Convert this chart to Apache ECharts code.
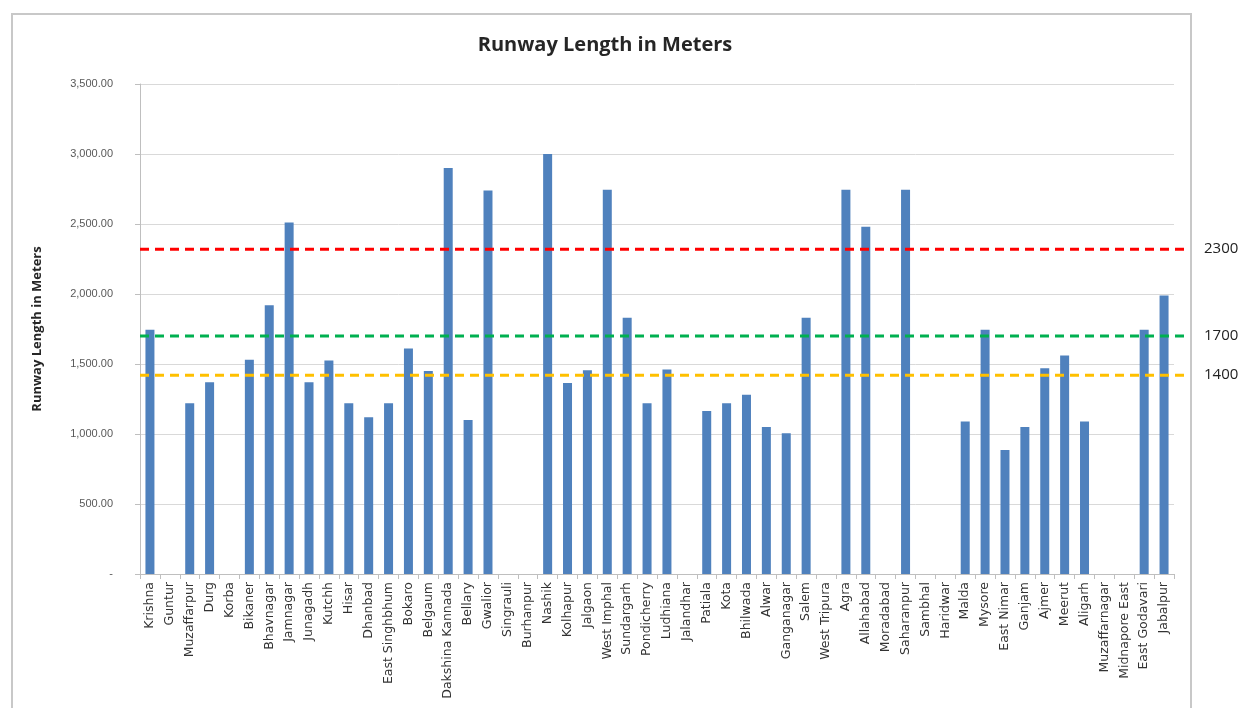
<!DOCTYPE html>
<html>
<head>
<meta charset="utf-8">
<script src="https://cdn.jsdelivr.net/npm/echarts@6/dist/echarts.min.js"></script>
<style>html,body{margin:0;padding:0;background:#fff;}#c{width:1253px;height:708px;}</style>
</head>
<body>
<div id="c"></div>
<script>
const categories = ['Krishna','Guntur','Muzaffarpur','Durg','Korba','Bikaner','Bhavnagar','Jamnagar','Junagadh','Kutchh','Hisar','Dhanbad','East Singhbhum','Bokaro','Belgaum','Dakshina Kannada','Bellary','Gwalior','Singrauli','Burhanpur','Nashik','Kolhapur','Jalgaon','West Imphal','Sundargarh','Pondicherry','Ludhiana','Jalandhar','Patiala','Kota','Bhilwada','Alwar','Ganganagar','Salem','West Tripura','Agra','Allahabad','Moradabad','Saharanpur','Sambhal','Haridwar','Malda','Mysore','East Nimar','Ganjam','Ajmer','Meerut','Aligarh','Muzaffarnagar','Midnapore East','East Godavari','Jabalpur'];
const runwayLength = [1745,null,1220,1370,null,1530,1920,2510,1370,1525,1220,1120,1220,1610,1450,2900,1100,2740,null,null,3000,1365,1455,2745,1830,1220,1460,null,1165,1220,1280,1050,1005,1830,null,2745,2480,null,2745,null,null,1090,1745,885,1050,1470,1560,1090,null,null,1745,1990];
const thresholdLabels = ['2300','1700','1400'];
const thresholdValues = [2320,1700,1420];
const thresholdColors = ['#ff0000','#00b050','#ffc000'];
const yTicks = {min:0, max:3500, interval:500};

const chart = echarts.init(document.getElementById('c'), null, {renderer:'canvas'});
const gridTop = 84, gridBottom = 134;
const thresholdSeries = thresholdValues.map((v,i)=>({
  type:'line', xAxisIndex:1, yAxisIndex:1, symbol:'none', silent:true,
  data:[[0,v],[1,v]],
  lineStyle:{color:thresholdColors[i], width:3, type:[9,6]},
  endLabel:{show:true, formatter:thresholdLabels[i], color:'#222', fontSize:15, fontFamily:'Open Sans', distance:18},
  z:5
}));
chart.setOption({
  animation:false,
  backgroundColor:'#fff',
  title:{text:'Runway Length in Meters', left:600, top:30, textAlign:'center',
    textStyle:{fontFamily:'Open Sans', fontWeight:'bold', fontSize:20, color:'#262626'}},
  graphic:[{type:'rect', shape:{x:12, y:14, width:1179, height:720}, style:{fill:null, stroke:'#c8c8c8', lineWidth:2}, silent:true}],
  grid:[
    {left:140, right:79, top:gridTop, bottom:gridBottom},
    {left:140, right:67, top:gridTop, bottom:gridBottom}
  ],
  xAxis:[
    {type:'category', gridIndex:0, data:categories,
     axisLine:{lineStyle:{color:'#bfbfbf'}},
     axisTick:{show:true, alignWithLabel:false, length:5, lineStyle:{color:'#bfbfbf'}},
     axisLabel:{interval:0, rotate:90, fontSize:12.5, fontFamily:'DejaVu Sans', color:'#333', margin:8}},
    {type:'value', gridIndex:1, min:0, max:1, show:false}
  ],
  yAxis:[
    {type:'value', gridIndex:0, min:yTicks.min, max:yTicks.max, interval:yTicks.interval,
     name:'Runway Length in Meters', nameLocation:'middle', nameGap:96,
     nameTextStyle:{fontFamily:'Open Sans', fontWeight:'bold', fontSize:13, color:'#262626'},
     axisLine:{show:true, lineStyle:{color:'#bfbfbf'}},
     axisTick:{show:true, length:5, lineStyle:{color:'#bfbfbf'}},
     splitLine:{lineStyle:{color:'#d9d9d9', width:1}},
     axisLabel:{fontSize:11, fontFamily:'Liberation Sans', color:'#595959', margin:27,
       formatter:v=> v===0 ? '-' : v.toLocaleString('en-US',{minimumFractionDigits:2, maximumFractionDigits:2})}},
    {type:'value', gridIndex:1, min:yTicks.min, max:yTicks.max, show:false}
  ],
  series:[
    {type:'bar', xAxisIndex:0, yAxisIndex:0, data:runwayLength, barWidth:9,
     itemStyle:{color:'#4f81bd'}},
    ...thresholdSeries
  ]
});
</script>
</body>
</html>
